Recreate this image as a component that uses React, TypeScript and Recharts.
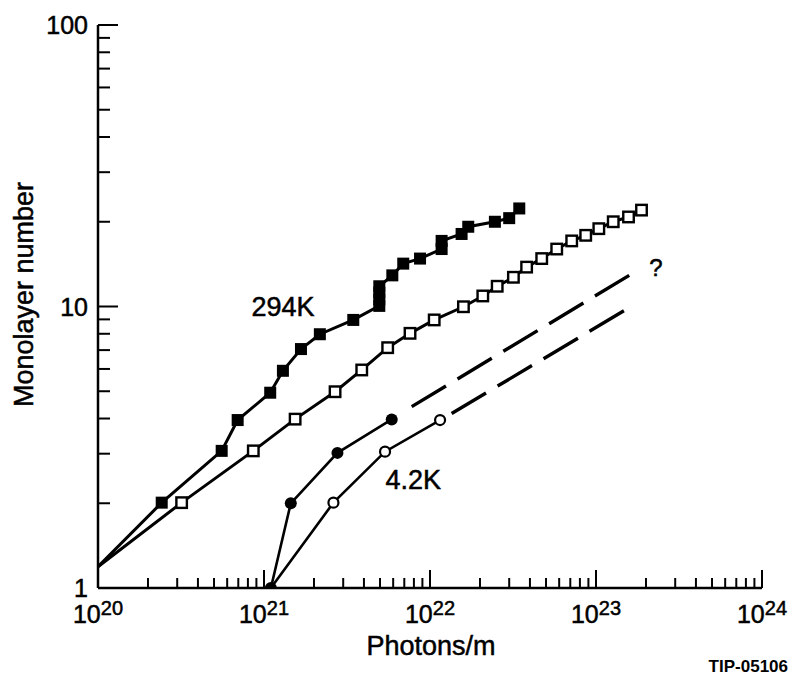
import { LineChart, Line, XAxis, YAxis, ReferenceDot, Label } from 'recharts'

const FONT = '"Liberation Sans", Arial, Helvetica, sans-serif'

// 294K, filled squares
const warmFilledX = [1e20, 2.42e20, 5.56e20, 6.94e20, 1.09e21, 1.3e21, 1.67e21, 2.17e21, 3.45e21, 4.95e21, 4.95e21, 4.95e21, 4.95e21, 5.93e21, 6.9e21, 8.71e21, 1.175e22, 1.175e22, 1.55e22, 1.7e22, 2.46e22, 3.0e22, 3.45e22]
const warmFilledY = [1.19, 2.01, 3.07, 3.95, 4.94, 5.91, 7.06, 7.97, 8.96, 10.05, 10.6, 11.2, 11.8, 12.9, 14.2, 14.8, 16.0, 17.1, 18.1, 19.2, 20.0, 20.6, 22.3]

// open squares
const warmOpenX = [1e20, 3.19e20, 8.62e20, 1.54e21, 2.68e21, 3.88e21, 5.56e21, 7.58e21, 1.06e22, 1.59e22, 2.08e22, 2.54e22, 3.18e22, 3.82e22, 4.71e22, 5.8e22, 7.14e22, 8.67e22, 1.04e23, 1.27e23, 1.57e23, 1.88e23]
const warmOpenY = [1.19, 2.01, 3.07, 3.98, 4.98, 5.95, 7.14, 8.03, 8.96, 9.98, 10.9, 11.8, 12.7, 13.8, 14.8, 16.0, 17.1, 17.9, 18.9, 20.0, 20.8, 22.0]

// 4.2K, filled and open circles
const coldFilledX = [1.1e21, 1.45e21, 2.77e21, 5.88e21]
const coldFilledY = [1, 2.0, 3.02, 3.97]
const coldOpenX = [1.1e21, 2.62e21, 5.36e21, 1.15e22]
const coldOpenY = [1, 2.01, 3.05, 3.95]

// dashed extrapolations
const coldFilledExtX = [7.76e21, 1.62e23]
const coldFilledExtY = [4.41, 13.0]
const coldOpenExtX = [1.35e22, 1.48e23]
const coldOpenExtY = [4.17, 9.67]

const xDecades = [1e20, 1e21, 1e22, 1e23, 1e24]
const yDecades = [1, 10, 100]

// points drawn as line vertex only (no marker)
const warmHidden = [0]
const coldOpenHidden = [0]

const zip = (xs: number[], ys: number[], hidden: number[] = []) =>
  xs.map((x, i) => ({ x, y: ys[i], mark: !hidden.includes(i) }))

const warmFilled = zip(warmFilledX, warmFilledY, warmHidden)
const warmOpen = zip(warmOpenX, warmOpenY, warmHidden)
const coldFilled = zip(coldFilledX, coldFilledY)
const coldOpen = zip(coldOpenX, coldOpenY, coldOpenHidden)
const coldFilledExt = zip(coldFilledExtX, coldFilledExtY)
const coldOpenExt = zip(coldOpenExtX, coldOpenExtY)

const withMinors = (decades: number[]) => {
  const out: number[] = []
  decades.forEach((d, i) => {
    out.push(d)
    if (i < decades.length - 1) for (let m = 2; m <= 9; m++) out.push(d * m)
  })
  return out
}
const xTicks = withMinors(xDecades)
const yTicks = withMinors(yDecades)

const isDecade = (v: number) => Math.abs(Math.log10(v) - Math.round(Math.log10(v))) < 1e-9

// heavier text, like the scanned original
const ink = { fill: '#000', stroke: '#000', strokeWidth: 0.5 }

const BottomTick = ({ x, y, payload }: any) => {
  const v = payload.value
  const major = isDecade(v)
  return (
    <g>
      <line x1={x} x2={x} y1={y} y2={y - (major ? 18 : 10)} stroke="#000" strokeWidth={2} />
      {major && (
        <text x={x} y={y + 35} textAnchor="middle" fontFamily={FONT} fontSize={25} {...ink}>
          10<tspan dy={-8} fontSize={20}>{Math.round(Math.log10(v))}</tspan>
        </text>
      )}
    </g>
  )
}

const TopTick = ({ x, y, payload }: any) => {
  const major = isDecade(payload.value)
  return <line x1={x} x2={x} y1={y} y2={y + (major ? 19 : 10)} stroke="#000" strokeWidth={2} />
}

const LeftTick = ({ x, y, payload }: any) => {
  const v = payload.value
  const major = isDecade(v)
  return (
    <g>
      <line x1={x} x2={x + (major ? 20 : 12)} y1={y} y2={y} stroke="#000" strokeWidth={2} />
      {major && (
        <text x={x - 10} y={y + 9} textAnchor="end" fontFamily={FONT} fontSize={25} {...ink}>
          {v}
        </text>
      )}
    </g>
  )
}

const RightTick = ({ x, y, payload }: any) => {
  const major = isDecade(payload.value)
  return <line x1={x} x2={x - (major ? 18 : 10)} y1={y} y2={y} stroke="#000" strokeWidth={2} />
}

const filledSquare = (p: any) => {
  if (!p.payload.mark) return <g key={`fs-${p.index}`} />
  return <rect key={`fs-${p.index}`} x={p.cx - 6} y={p.cy - 6} width={12} height={12} fill="#000" />
}
const openSquare = (p: any) => {
  if (!p.payload.mark) return <g key={`os-${p.index}`} />
  return (
    <rect key={`os-${p.index}`} x={p.cx - 5.25} y={p.cy - 5.25} width={10.5} height={10.5}
      fill="#fff" stroke="#000" strokeWidth={2.4} />
  )
}
const filledCircle = (p: any) => {
  if (!p.payload.mark) return <g key={`fc-${p.index}`} />
  return <circle key={`fc-${p.index}`} cx={p.cx} cy={p.cy} r={6} fill="#000" />
}
const openCircle = (p: any) => {
  if (!p.payload.mark) return <g key={`oc-${p.index}`} />
  return <circle key={`oc-${p.index}`} cx={p.cx} cy={p.cy} r={5} fill="#fff" stroke="#000" strokeWidth={2.2} />
}

const yTitle = ({ viewBox }: any) => {
  const cx = viewBox.x + 33
  const cy = viewBox.y + viewBox.height / 2 - 12
  return (
    <text transform={`translate(${cx},${cy}) rotate(-90)`} textAnchor="middle"
      fontFamily={FONT} fontSize={27} {...ink}>
      Monolayer number
    </text>
  )
}

const xTitle = ({ viewBox }: any) => (
  <g>
    <text x={viewBox.x + viewBox.width / 2 + 1} y={viewBox.y + 67} textAnchor="middle"
      fontFamily={FONT} fontSize={27} {...ink}>
      Photons/m
    </text>
    <text x={viewBox.x + viewBox.width + 26} y={viewBox.y + 84} textAnchor="end"
      fontFamily={FONT} fontSize={17} fontWeight="bold" fill="#000">
      TIP-05106
    </text>
  </g>
)

const axisLine = { stroke: '#000', strokeWidth: 2.5 }
const annot = (value: string, size: number) => ({
  value, position: 'center' as const, fontSize: size, fontFamily: FONT, ...ink,
})

export default function App() {
  return (
    <div style={{ position: 'absolute', left: 0, top: 0, width: 798, height: 678, background: '#fff' }}>
      <LineChart width={798} height={678} margin={{ top: 25, right: 36, bottom: 0, left: 0 }}>
        <XAxis dataKey="x" type="number" scale="log" domain={[1e20, 1e24]} ticks={xTicks}
          interval={0} height={90} tickSize={0} tickMargin={0} tickLine={false}
          axisLine={axisLine} tick={<BottomTick />} allowDataOverflow>
          <Label content={xTitle} />
        </XAxis>
        <XAxis xAxisId="top" orientation="top" dataKey="x" type="number" scale="log"
          domain={[1e20, 1e24]} ticks={xTicks} interval={0} height={0} tickSize={0}
          tickMargin={0} tickLine={false} axisLine={axisLine} tick={<TopTick />} allowDataOverflow />
        <YAxis dataKey="y" type="number" scale="log" domain={[1, 100]} ticks={yTicks}
          interval={0} width={98} tickSize={0} tickMargin={0} tickLine={false}
          axisLine={axisLine} tick={<LeftTick />} allowDataOverflow>
          <Label content={yTitle} />
        </YAxis>
        <YAxis yAxisId="right" orientation="right" dataKey="y" type="number" scale="log"
          domain={[1, 100]} ticks={yTicks} interval={0} width={0} tickSize={0} tickMargin={0}
          tickLine={false} axisLine={axisLine} tick={<RightTick />} allowDataOverflow />

        <Line data={warmOpen} dataKey="y" type="linear" stroke="#000" strokeWidth={3}
          dot={openSquare} isAnimationActive={false} />
        <Line data={warmFilled} dataKey="y" type="linear" stroke="#000" strokeWidth={3}
          dot={filledSquare} isAnimationActive={false} />
        <Line data={coldOpen} dataKey="y" type="linear" stroke="#000" strokeWidth={2.6}
          dot={openCircle} isAnimationActive={false} />
        <Line data={coldFilled} dataKey="y" type="linear" stroke="#000" strokeWidth={2.6}
          dot={filledCircle} isAnimationActive={false} />
        <Line data={coldFilledExt} dataKey="y" type="linear" stroke="#000" strokeWidth={3.4}
          strokeDasharray="40 13.5" dot={false} isAnimationActive={false} />
        <Line data={coldOpenExt} dataKey="y" type="linear" stroke="#000" strokeWidth={3.4}
          strokeDasharray="40 13.5" dot={false} isAnimationActive={false} />

        <ReferenceDot x={1.3e21} y={10} r={0} stroke="none" label={annot('294K', 27)} />
        <ReferenceDot x={7.93e21} y={2.44} r={0} stroke="none" label={annot('4.2K', 27)} />
        <ReferenceDot x={2.3e23} y={13.8} r={0} stroke="none" label={annot('?', 24)} />
      </LineChart>
    </div>
  )
}
